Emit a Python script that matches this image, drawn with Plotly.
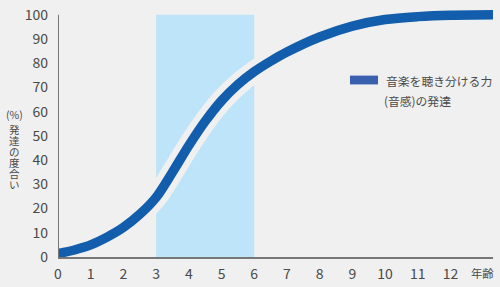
import plotly.graph_objects as go

# data
ages = [0, 0.5, 1, 1.5, 2, 2.5, 3, 3.5, 4, 4.5, 5, 5.5, 6, 6.5, 7, 8, 9, 10, 11, 12, 13.3]
development = [1.4, 2.9, 5, 8.2, 12.2, 17.6, 24.6, 35, 46, 56, 64.5, 71.2, 76.5, 80.8, 84.6, 90.8, 95.3, 98, 99.2, 99.8, 100]
x_ticks = list(range(0, 13))
y_ticks = list(range(0, 101, 10))
band_start, band_end = 3, 6
legend_line1 = "音楽を聴き分ける力"
legend_line2 = "(音感)の発達"
y_title_top = "(%)"
y_title_chars = list("発達の度合い")
x_title = "年齢"

BG = "#f0f0f0"
LINE = "#125eac"
BAND = "#bde4f8"
TEXT = "#4a4a4a"
FONT = "Noto Sans CJK JP"

fig = go.Figure()

# halo (same as background colour, visible only over the band)
fig.add_trace(go.Scatter(x=ages, y=development, mode="lines",
                         line=dict(color=BG, width=22, shape="spline", smoothing=0.9),
                         hoverinfo="skip", showlegend=False))
fig.add_trace(go.Scatter(x=ages, y=development, mode="lines",
                         line=dict(color=LINE, width=9.5, shape="spline", smoothing=0.9),
                         showlegend=False))

# band
fig.add_shape(type="rect", xref="x", yref="y", x0=band_start, x1=band_end, y0=0, y1=100,
              fillcolor=BAND, line=dict(width=0), layer="below")
# y axis line (0..100 only)
fig.add_shape(type="line", xref="x", yref="y", x0=0, x1=0, y0=0, y1=100,
              line=dict(color="#777777", width=2), layer="above")

L, R, T, B = 58, 7, 4, 26
W, H = 500, 287
pw, ph = W - L - R, H - T - B

def px_x(p):
    return (p - L) / pw

def px_y(p):
    return (H - B - p) / ph

# legend swatch + text
fig.add_shape(type="rect", xref="paper", yref="paper",
              x0=px_x(350), x1=px_x(378), y0=px_y(85), y1=px_y(76),
              fillcolor="#3a5fae", line=dict(width=0))
fig.add_annotation(xref="paper", yref="paper", x=px_x(384), y=px_y(81),
                   text=legend_line1, showarrow=False, xanchor="left", yanchor="middle",
                   font=dict(family=FONT, size=11.8, color=TEXT))
fig.add_annotation(xref="paper", yref="paper", x=px_x(382), y=px_y(101),
                   text=legend_line2, showarrow=False, xanchor="left", yanchor="middle",
                   font=dict(family=FONT, size=11.8, color=TEXT))

# y title
fig.add_annotation(xref="paper", yref="paper", x=px_x(14), y=px_y(116),
                   text=y_title_top, showarrow=False, xanchor="center", yanchor="middle",
                   font=dict(family=FONT, size=10.5, color=TEXT), borderpad=0)
for i, ch in enumerate(y_title_chars):
    fig.add_annotation(xref="paper", yref="paper", x=px_x(14), y=px_y(131 + i * 11.3),
                       text=ch, showarrow=False, xanchor="center", yanchor="middle",
                       font=dict(family=FONT, size=10.5, color=TEXT), borderpad=0)

# x title
fig.add_annotation(xref="paper", yref="paper", x=px_x(482), y=px_y(277),
                   text=x_title, showarrow=False, xanchor="center", yanchor="middle",
                   font=dict(family=FONT, size=11.3, color=TEXT))

fig.update_layout(
    width=W, height=H,
    margin=dict(l=L, r=R, t=T, b=B),
    paper_bgcolor=BG, plot_bgcolor=BG,
    showlegend=False,
    font=dict(family=FONT, color=TEXT, size=14),
)
fig.update_xaxes(range=[0, 13.3], tickvals=x_ticks, showgrid=False, zeroline=False,
                 showline=True, linecolor="#777777", linewidth=2, ticks="",
                 tickfont=dict(size=14, color=TEXT), ticklabelstandoff=3, fixedrange=True)
fig.update_yaxes(range=[0, 104], tickvals=y_ticks, showgrid=False, zeroline=False,
                 showline=False, ticks="", tickfont=dict(size=14, color=TEXT),
                 ticklabelstandoff=9, fixedrange=True)

fig.write_html("out.html")
